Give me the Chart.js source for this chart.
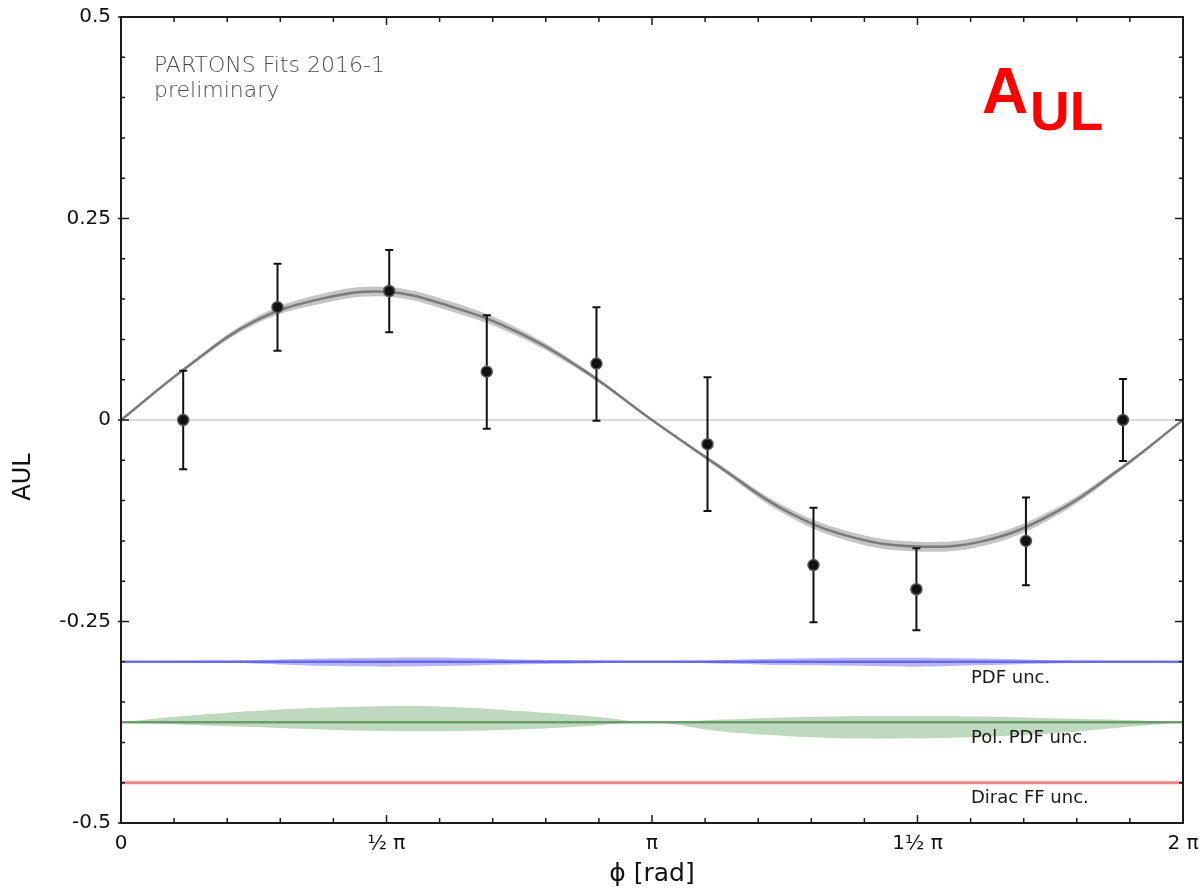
<!DOCTYPE html>
<html>
<head>
<meta charset="utf-8">
<script src="https://cdn.jsdelivr.net/npm/chart.js@4.4.0/dist/chart.umd.min.js"></script>
<style>
  html, body { margin: 0; padding: 0; background: #fff; }
  #wrap { width: 1203px; height: 893px; }
</style>
</head>
<body>
<div id="wrap"><canvas id="aul" width="1203" height="893"></canvas></div>
<script>
const PI = Math.PI;

// measured asymmetry, with asymmetric error bars
const phiPoints = [0.368, 0.926, 1.587, 2.164, 2.813, 3.470, 4.097, 4.706, 5.354, 5.928];
const aulPoints = [0.000, 0.140, 0.160, 0.060, 0.070, -0.030, -0.180, -0.210, -0.150, 0.000];
const errUp     = [0.061, 0.054, 0.051, 0.070, 0.070, 0.083, 0.071, 0.051, 0.054, 0.051];
const errDown   = [0.061, 0.054, 0.051, 0.071, 0.071, 0.083, 0.071, 0.051, 0.055, 0.051];

// fit result, sampled every pi/8
const curvePhi = [0, 1, 2, 3, 4, 5, 6, 7, 8, 9, 10, 11, 12, 13, 14, 15, 16].map(k => k * PI / 8);
const fitCurve = [0, 0.066, 0.122, 0.150, 0.159, 0.140, 0.108, 0.060, 0, -0.057, -0.112, -0.145, -0.157, -0.150, -0.118, -0.064, 0];
const fitBand  = [0, 0.002, 0.004, 0.006, 0.006, 0.006, 0.005, 0.003, 0.001, 0.003, 0.005, 0.006, 0.006, 0.006, 0.005, 0.003, 0];

// uncertainty contributions, drawn offset below the data
const pdfLevel = -0.30;
const pdfUp    = [0, 0.001, 0.002, 0.004, 0.005, 0.005, 0.003, 0.002, 0.001, 0.002, 0.004, 0.005, 0.005, 0.004, 0.002, 0.001, 0];
const pdfDown  = [0, 0.001, 0.002, 0.005, 0.006, 0.005, 0.003, 0.002, 0.001, 0.002, 0.004, 0.005, 0.006, 0.004, 0.002, 0.001, 0];
const polLevel = -0.375;
const polUp    = [0, 0.008, 0.014, 0.018, 0.020, 0.019, 0.014, 0.008, 0, 0.003, 0.006, 0.0075, 0.0075, 0.007, 0.005, 0.003, 0];
const polDown  = [0, 0.003, 0.006, 0.009, 0.011, 0.011, 0.009, 0.005, 0, 0.011, 0.017, 0.020, 0.020, 0.018, 0.014, 0.007, 0];
const diracLevel = -0.45;

const xTickValues = [0, PI / 2, PI, 3 * PI / 2, 2 * PI];
const xTickLabels = ['0', '½ π', 'π', '1½ π', '2 π'];
const yTickValues = [-0.5, -0.25, 0, 0.25, 0.5];
const yTickLabels = ['-0.5', '-0.25', '0', '0.25', '0.5'];

const FONT = '"DejaVu Sans", "Liberation Sans", sans-serif';

const xy = (xs, ys) => xs.map((x, i) => ({ x: x, y: ys[i] }));
const shifted = (level, offs, sign) => curvePhi.map((x, i) => ({ x: x, y: level + sign * offs[i] }));

function line(label, data, color, width, order) {
  return { label, data, borderColor: color, borderWidth: width, pointRadius: 0,
           tension: 0.4, fill: false, order };
}
function bandEdge(label, data, color, fill, order) {
  return { label, data, borderWidth: 0, borderColor: 'rgba(0,0,0,0)', backgroundColor: color,
           pointRadius: 0, tension: 0.4, fill, order };
}

const datasets = [
  { label: 'data', data: xy(phiPoints, aulPoints), showLine: false, pointRadius: 5.5,
    pointBackgroundColor: '#111', pointBorderColor: '#555', pointBorderWidth: 1.5, order: 0 },
  line('fit', xy(curvePhi, fitCurve), '#7a7a7a', 2.5, 1),
  bandEdge('fit+', curvePhi.map((x, i) => ({ x, y: fitCurve[i] + fitBand[i] })), 'rgba(110,110,110,0.4)', '+1', 2),
  bandEdge('fit-', curvePhi.map((x, i) => ({ x, y: fitCurve[i] - fitBand[i] })), 'rgba(0,0,0,0)', false, 2),
  line('pdf', shifted(pdfLevel, pdfUp, 0), 'rgba(95,95,235,0.9)', 2.5, 3),
  bandEdge('pdf+', shifted(pdfLevel, pdfUp, 1), 'rgba(110,110,240,0.5)', '+1', 4),
  bandEdge('pdf-', shifted(pdfLevel, pdfDown, -1), 'rgba(0,0,0,0)', false, 4),
  line('pol', shifted(polLevel, polUp, 0), 'rgba(95,150,95,0.9)', 2.5, 3),
  bandEdge('pol+', shifted(polLevel, polUp, 1), 'rgba(125,180,125,0.5)', '+1', 4),
  bandEdge('pol-', shifted(polLevel, polDown, -1), 'rgba(0,0,0,0)', false, 4),
  line('dirac', shifted(diracLevel, pdfUp, 0), 'rgba(238,120,120,0.9)', 3, 3)
];

const decorations = {
  id: 'decorations',
  beforeDatasetsDraw(chart) {
    const { ctx, chartArea: a, scales: { y } } = chart;
    const y0 = y.getPixelForValue(0);
    ctx.save();
    ctx.strokeStyle = '#cfcfcf';
    ctx.lineWidth = 1.5;
    ctx.beginPath();
    ctx.moveTo(a.left, y0);
    ctx.lineTo(a.right, y0);
    ctx.stroke();
    ctx.restore();
  },
  beforeDatasetDraw(chart, args) {
    if (chart.data.datasets[args.index].label !== 'data') return;
    const { ctx, scales: { x, y } } = chart;
    ctx.save();
    ctx.strokeStyle = '#111';
    ctx.lineWidth = 2;
    phiPoints.forEach((phi, i) => {
      const px = x.getPixelForValue(phi);
      const top = y.getPixelForValue(aulPoints[i] + errUp[i]);
      const bot = y.getPixelForValue(aulPoints[i] - errDown[i]);
      ctx.beginPath();
      ctx.moveTo(px, top); ctx.lineTo(px, bot);
      ctx.moveTo(px - 4, top); ctx.lineTo(px + 4, top);
      ctx.moveTo(px - 4, bot); ctx.lineTo(px + 4, bot);
      ctx.stroke();
    });
    ctx.restore();
  },
  afterDraw(chart) {
    const { ctx, chartArea: a, scales: { x, y } } = chart;
    ctx.save();
    // frame
    ctx.strokeStyle = '#1a1a1a';
    ctx.lineWidth = 2;
    ctx.strokeRect(a.left, a.top, a.right - a.left, a.bottom - a.top);

    // inward ticks on all four sides
    ctx.lineWidth = 1.5;
    ctx.beginPath();
    for (let k = 0; k <= 20; k++) {
      const px = x.getPixelForValue(k * PI / 10);
      const len = k % 5 === 0 ? 8 : 5;
      ctx.moveTo(px, a.bottom); ctx.lineTo(px, a.bottom - len);
      ctx.moveTo(px, a.top); ctx.lineTo(px, a.top + len);
    }
    for (let k = 0; k <= 20; k++) {
      const py = y.getPixelForValue(-0.5 + k * 0.05);
      const major = k % 5 === 0;
      const len = major ? 8 : 4;
      ctx.moveTo(a.left - (major ? 3 : 0), py); ctx.lineTo(a.left + len, py);
      ctx.moveTo(a.right, py); ctx.lineTo(a.right - len, py);
    }
    ctx.stroke();

    // y axis title, sitting a little below the middle
    ctx.fillStyle = '#111';
    ctx.font = '24px ' + FONT;
    ctx.textAlign = 'center';
    ctx.textBaseline = 'middle';
    ctx.translate(24, 477);
    ctx.rotate(-PI / 2);
    ctx.fillText('AUL', 0, 0);
    ctx.setTransform(1, 0, 0, 1, 0, 0);
    ctx.textAlign = 'left';
    ctx.textBaseline = 'alphabetic';

    // caption
    ctx.fillStyle = '#4a4a4a';
    ctx.font = '200 22px "DejaVu Sans ExtraLight", ' + FONT;
    ctx.fillText('PARTONS Fits 2016-1', 154, 72);
    ctx.fillText('preliminary', 154, 97);

    // observable name
    ctx.fillStyle = '#ff0000';
    ctx.font = 'bold 64px "Liberation Sans", Arial, sans-serif';
    ctx.fillText('A', 982, 113);
    ctx.font = 'bold 55px "Liberation Sans", Arial, sans-serif';
    ctx.fillText('UL', 1030, 130);

    // band labels
    ctx.fillStyle = '#1a1a1a';
    ctx.font = '18px ' + FONT;
    ctx.fillText('PDF unc.', 971, 683);
    ctx.fillText('Pol. PDF unc.', 971, 743);
    ctx.fillText('Dirac FF unc.', 971, 803);
    ctx.restore();
  }
};

new Chart(document.getElementById('aul'), {
  type: 'line',
  data: { datasets },
  options: {
    responsive: false,
    animation: false,
    layout: { padding: { top: 17, right: 20, left: 0, bottom: 0 } },
    plugins: { legend: { display: false }, tooltip: { enabled: false } },
    scales: {
      x: {
        type: 'linear', min: 0, max: 2 * PI,
        grid: { display: false, drawTicks: false },
        border: { display: false },
        afterBuildTicks: s => { s.ticks = xTickValues.map(v => ({ value: v })); },
        afterFit: s => { s.height = 70; s.paddingLeft = 0; s.paddingRight = 0; },
        ticks: {
          autoSkip: false, maxRotation: 0, padding: 9, color: '#111',
          font: { family: FONT, size: 20 },
          callback: (v, i) => xTickLabels[i]
        },
        title: { display: true, text: 'ϕ [rad]', color: '#111',
                 font: { family: FONT, size: 25 }, padding: { top: 0, bottom: 4 } }
      },
      y: {
        type: 'linear', min: -0.5, max: 0.5,
        grid: { display: false, drawTicks: false },
        border: { display: false },
        afterBuildTicks: s => { s.ticks = yTickValues.map(v => ({ value: v })); },
        afterFit: s => { s.width = 121; s.paddingTop = 0; s.paddingBottom = 0; },
        ticks: {
          padding: 10, color: '#111',
          font: { family: FONT, size: 20 },
          callback: (v, i) => yTickLabels[i]
        }
      }
    }
  },
  plugins: [decorations]
});
</script>
</body>
</html>
